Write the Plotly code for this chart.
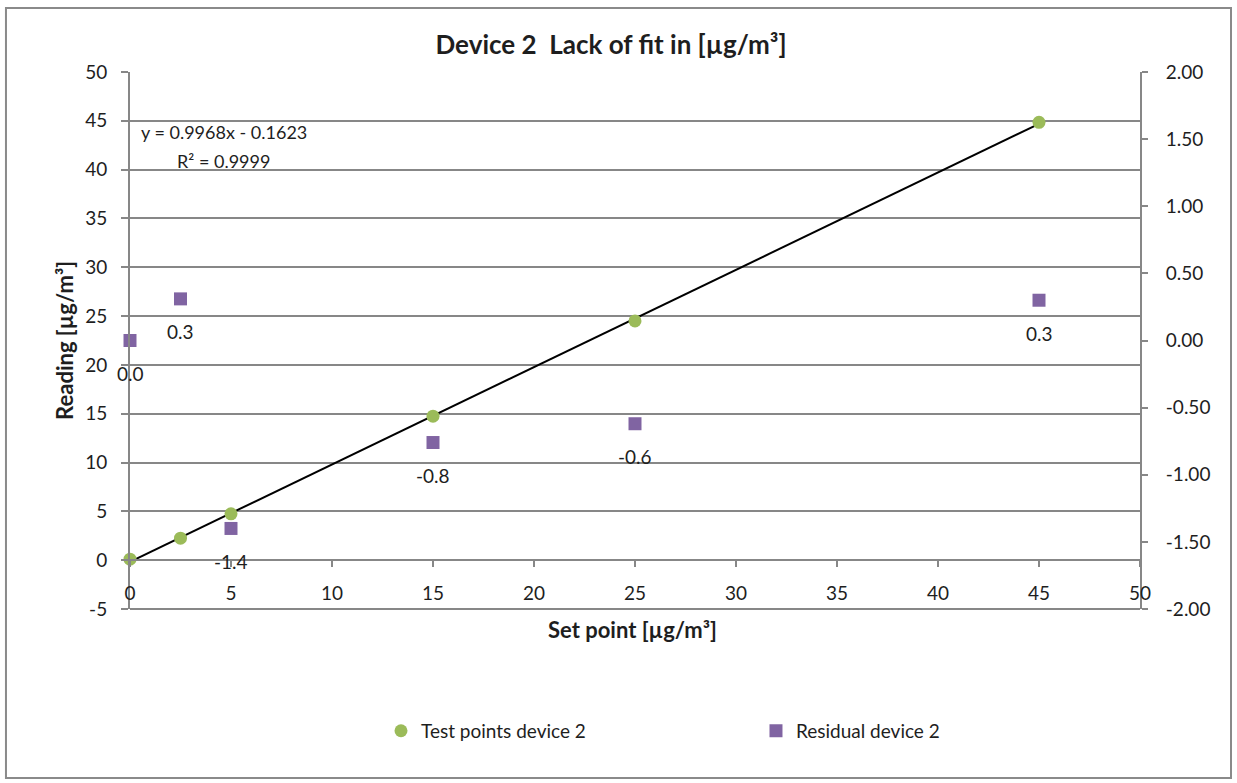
import plotly.graph_objects as go

# ---- data ----
set_points = [0, 2.5, 5, 15, 25, 45]
readings = [0.1, 2.25, 4.75, 14.75, 24.5, 44.85]
residuals = [0.0, 0.31, -1.40, -0.76, -0.62, 0.30]
fit_slope = 0.9968
fit_intercept = -0.1623
fit_x = [0, 45]

y_left_ticks = [-5, 0, 5, 10, 15, 20, 25, 30, 35, 40, 45, 50]
y_left_text = ["-5", "0", "5", "10", "15", "20", "25", "30", "35", "40", "45", "50"]
y_right_ticks = [-2.0, -1.5, -1.0, -0.5, 0.0, 0.5, 1.0, 1.5, 2.0]
y_right_text = ["-2.00", "-1.50", "-1.00", "-0.50", "0.00", "0.50", "1.00", "1.50", "2.00"]
x_ticks = [0, 5, 10, 15, 20, 25, 30, 35, 40, 45, 50]

FONT = "Lato, Open Sans, sans-serif"
GRID = "#878787"
TXT = "#1e1e1e"
GREEN = "#9bbb59"
PURPLE = "#8064a2"
TICK_SIZE = 19
LABEL_SIZE = 19
BOLD_SIZE = 22

fig = go.Figure()

fig.add_trace(go.Scatter(
    x=fit_x, y=[fit_slope * v + fit_intercept for v in fit_x],
    mode="lines", line=dict(color="black", width=2), showlegend=False,
    hoverinfo="skip", yaxis="y"))

fig.add_trace(go.Scatter(
    x=set_points, y=readings, mode="markers", name="Test points device 2",
    marker=dict(symbol="circle", size=13, color=GREEN), cliponaxis=False,
    yaxis="y"))

fig.add_trace(go.Scatter(
    x=set_points, y=residuals, mode="markers", name="Residual device 2",
    marker=dict(symbol="square", size=13, color=PURPLE), cliponaxis=False,
    yaxis="y2"))

annotations = []
for xv, rv in zip(set_points, residuals):
    annotations.append(dict(
        x=xv, y=rv, xref="x", yref="y2", text=f"{rv:.1f}",
        showarrow=False, yshift=-33, font=dict(family=FONT, size=LABEL_SIZE, color=TXT)))

annotations += [
    dict(x=4.65, y=43.9, xref="x", yref="y", text="y = 0.9968x - 0.1623",
         showarrow=False, font=dict(family=FONT, size=18, color=TXT)),
    dict(x=4.65, y=40.9, xref="x", yref="y", text="R² = 0.9999",
         showarrow=False, font=dict(family=FONT, size=18, color=TXT)),
    dict(x=-0.0644, y=0.501, xref="paper", yref="paper", text="<b>Reading [µg/m³]</b>",
         textangle=-90, xanchor="center", yanchor="middle", showarrow=False,
         font=dict(family=FONT, size=BOLD_SIZE, color=TXT)),
    dict(x=0.498, y=-0.039, xref="paper", yref="paper", text="<b>Set point [µg/m³]</b>",
         xanchor="center", yanchor="middle", showarrow=False,
         font=dict(family=FONT, size=BOLD_SIZE, color=TXT)),
]

fig.update_layout(
    width=1237, height=783,
    paper_bgcolor="white", plot_bgcolor="white",
    margin=dict(l=130, r=97, t=72, b=174),
    font=dict(family=FONT, size=TICK_SIZE, color=TXT),
    title=dict(text="<b>Device 2  Lack of fit in [µg/m³]</b>", xref="container",
               x=0.494, xanchor="center", y=0.9425, yanchor="middle",
               font=dict(family=FONT, size=26, color=TXT)),
    xaxis=dict(range=[0, 50], tickvals=x_ticks, anchor="free", position=5 / 55,
               showline=True, linecolor=GRID, linewidth=2, ticks="outside", ticklen=6,
               tickcolor=GRID, tickwidth=2, showgrid=False, zeroline=False,
               ticklabelstandoff=10, tickfont=dict(size=TICK_SIZE, color=TXT)),
    yaxis=dict(range=[-5, 50], tickvals=y_left_ticks, ticktext=y_left_text,
               showline=True, linecolor=GRID, linewidth=2, ticks="outside", ticklen=7,
               tickcolor=GRID, tickwidth=2, showgrid=True, gridcolor=GRID, gridwidth=2,
               zeroline=False, ticklabelstandoff=10, tickfont=dict(size=TICK_SIZE, color=TXT)),
    yaxis2=dict(range=[-2, 2], tickvals=y_right_ticks, ticktext=y_right_text,
                overlaying="y", side="right", anchor="x",
                showline=True, linecolor=GRID, linewidth=2, ticks="outside", ticklen=6,
                tickcolor=GRID, tickwidth=2, showgrid=False, zeroline=False,
                ticklabelstandoff=14, tickfont=dict(size=TICK_SIZE, color=TXT)),
    legend=dict(orientation="h", x=0.2485, xanchor="left", y=-0.227, yanchor="middle",
                entrywidth=330, entrywidthmode="pixels",
                font=dict(family=FONT, size=LABEL_SIZE, color=TXT)),
    annotations=annotations,
    shapes=[
        dict(type="rect", xref="paper", yref="paper",
             x0=-0.1228, x1=1.0901, y0=-0.3147, y1=1.1192,
             line=dict(color="#8a8a8a", width=2), fillcolor="rgba(0,0,0,0)",
             layer="below"),
        dict(type="line", xref="paper", yref="paper", x0=0, x1=1, y0=0, y1=0,
             line=dict(color=GRID, width=2), layer="below"),
    ],
)

fig.write_html("out.html", config={"displayModeBar": False},
               post_script="document.body.style.margin='0';document.body.style.overflow='hidden';")
